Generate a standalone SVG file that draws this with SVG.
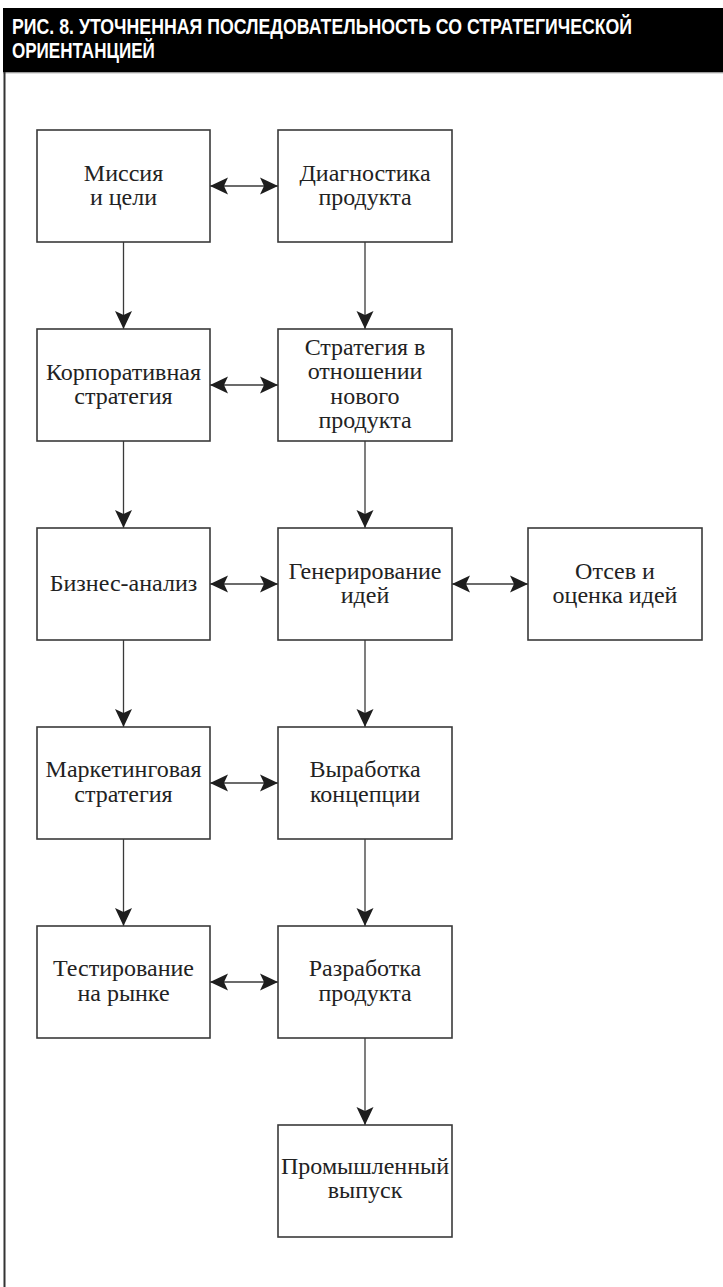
<svg xmlns="http://www.w3.org/2000/svg" width="723" height="1287" viewBox="0 0 723 1287">
  <style>
    .box { fill: #ffffff; stroke: #3a3a3a; stroke-width: 1.6; }
    .lbl { font-family: "Liberation Serif", "Times New Roman", serif; font-size: 24px; fill: #222222; text-anchor: middle; }
    .conn { stroke: #3a3a3a; stroke-width: 1.3; fill: none; }
    .title { font-family: "Liberation Sans", Arial, sans-serif; font-weight: bold; font-size: 22px; fill: #ffffff; }
  </style>
  <defs>
    <marker id="head" markerUnits="userSpaceOnUse" viewBox="-19 -9 20 18" refX="0" refY="0" markerWidth="20" markerHeight="18" orient="auto-start-reverse">
      <path d="M0,0 L-18,-8.5 L-14,0 L-18,8.5 Z" fill="#1e1e1e"/>
    </marker>
  </defs>

  <rect x="0" y="0" width="723" height="1287" fill="#ffffff"/>

  <!-- title bar and frame -->
  <g id="header">
    <rect x="3" y="8" width="720" height="64.5" fill="#000000"/>
    <line x1="3" y1="73" x2="723" y2="73" stroke="#bbbbbb" stroke-width="1"/>
    <line x1="4.5" y1="72" x2="4.5" y2="1287" stroke="#333333" stroke-width="2"/>
    <!-- condensed heading: horizontal squeeze of a bold sans -->
    <g transform="translate(12 0) scale(0.78 1)">
      <text class="title" x="0" y="34.5" textLength="795" lengthAdjust="spacingAndGlyphs">РИС. 8. УТОЧНЕННАЯ ПОСЛЕДОВАТЕЛЬНОСТЬ СО СТРАТЕГИЧЕСКОЙ</text>
      <text class="title" x="0" y="58.5" textLength="183" lengthAdjust="spacingAndGlyphs">ОРИЕНТАНЦИЕЙ</text>
    </g>
  </g>

  <!-- connectors -->
  <g id="connectors" class="conn" marker-end="url(#head)">
    <!-- left column -->
    <line x1="123.5" y1="242" x2="123.5" y2="329"/>
    <line x1="123.5" y1="441" x2="123.5" y2="528"/>
    <line x1="123.5" y1="640" x2="123.5" y2="727"/>
    <line x1="123.5" y1="839" x2="123.5" y2="926"/>
    <!-- right column -->
    <line x1="365" y1="242" x2="365" y2="329"/>
    <line x1="365" y1="441" x2="365" y2="528"/>
    <line x1="365" y1="640" x2="365" y2="727"/>
    <line x1="365" y1="839" x2="365" y2="926"/>
    <line x1="365" y1="1038" x2="365" y2="1125"/>
    <!-- two-way links -->
    <line x1="210" y1="186" x2="278" y2="186" marker-start="url(#head)"/>
    <line x1="210" y1="385" x2="278" y2="385" marker-start="url(#head)"/>
    <line x1="210" y1="584" x2="278" y2="584" marker-start="url(#head)"/>
    <line x1="452" y1="584" x2="528" y2="584" marker-start="url(#head)"/>
    <line x1="210" y1="783" x2="278" y2="783" marker-start="url(#head)"/>
    <line x1="210" y1="982" x2="278" y2="982" marker-start="url(#head)"/>
  </g>

  <!-- row 1 -->
  <g id="mission">
    <rect class="box" x="37" y="130" width="173" height="112"/>
    <text class="lbl" x="123.5" y="180.5">Миссия</text>
    <text class="lbl" x="123.5" y="205">и цели</text>
  </g>
  <g id="diagnostics">
    <rect class="box" x="278" y="130" width="174" height="112"/>
    <text class="lbl" x="365" y="180.5">Диагностика</text>
    <text class="lbl" x="365" y="205">продукта</text>
  </g>

  <!-- row 2 -->
  <g id="corporate-strategy">
    <rect class="box" x="37" y="329" width="173" height="112"/>
    <text class="lbl" x="123.5" y="379.5">Корпоративная</text>
    <text class="lbl" x="123.5" y="404">стратегия</text>
  </g>
  <g id="product-strategy">
    <rect class="box" x="278" y="329" width="174" height="112"/>
    <text class="lbl" x="365" y="355">Стратегия в</text>
    <text class="lbl" x="365" y="379.3">отношении</text>
    <text class="lbl" x="365" y="403.6">нового</text>
    <text class="lbl" x="365" y="428">продукта</text>
  </g>

  <!-- row 3 -->
  <g id="business-analysis">
    <rect class="box" x="37" y="528" width="173" height="112"/>
    <text class="lbl" x="123.5" y="591">Бизнес-анализ</text>
  </g>
  <g id="idea-generation">
    <rect class="box" x="278" y="528" width="174" height="112"/>
    <text class="lbl" x="365" y="578.5">Генерирование</text>
    <text class="lbl" x="365" y="603">идей</text>
  </g>
  <g id="idea-screening">
    <rect class="box" x="528" y="528" width="174" height="112"/>
    <text class="lbl" x="615" y="578.5">Отсев и</text>
    <text class="lbl" x="615" y="603">оценка идей</text>
  </g>

  <!-- row 4 -->
  <g id="marketing-strategy">
    <rect class="box" x="37" y="727" width="173" height="112"/>
    <text class="lbl" x="123.5" y="777">Маркетинговая</text>
    <text class="lbl" x="123.5" y="801.5">стратегия</text>
  </g>
  <g id="concept-development">
    <rect class="box" x="278" y="727" width="174" height="112"/>
    <text class="lbl" x="365" y="777">Выработка</text>
    <text class="lbl" x="365" y="801.5">концепции</text>
  </g>

  <!-- row 5 -->
  <g id="market-testing">
    <rect class="box" x="37" y="926" width="173" height="112"/>
    <text class="lbl" x="123.5" y="976">Тестирование</text>
    <text class="lbl" x="123.5" y="1000.5">на рынке</text>
  </g>
  <g id="product-development">
    <rect class="box" x="278" y="926" width="174" height="112"/>
    <text class="lbl" x="365" y="976">Разработка</text>
    <text class="lbl" x="365" y="1000.5">продукта</text>
  </g>

  <!-- row 6 -->
  <g id="commercial-launch">
    <rect class="box" x="278" y="1125" width="174" height="112"/>
    <text class="lbl" x="365" y="1173.5">Промышленный</text>
    <text class="lbl" x="365" y="1198">выпуск</text>
  </g>
</svg>
